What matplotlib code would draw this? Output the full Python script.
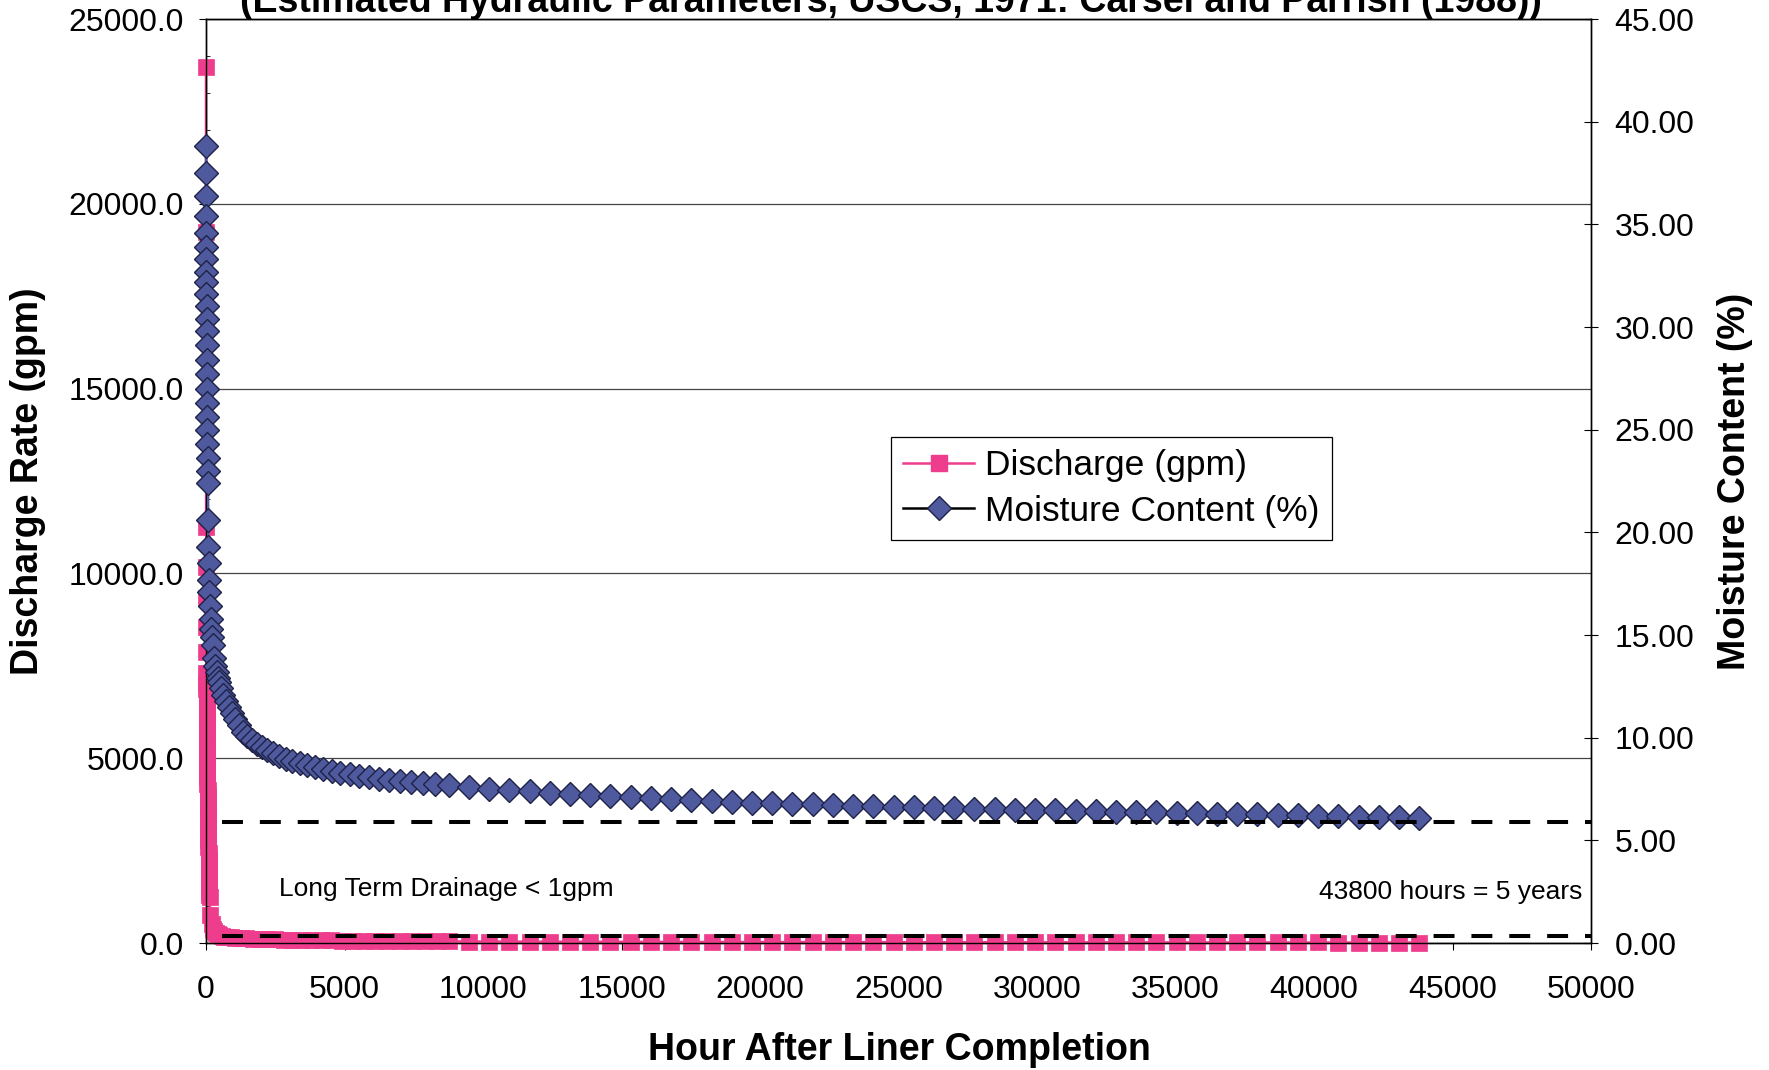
import numpy as np
import matplotlib.pyplot as plt
from matplotlib.ticker import FormatStrFormatter, MultipleLocator
from matplotlib.lines import Line2D

plt.rcParams['font.family'] = ['Liberation Sans', 'DejaVu Sans']

# --- data ---
# discharge, first year (dense record)
q_hours = [0, 2, 4, 6, 8, 10, 12, 14, 16,
           18, 20, 22, 24, 26, 28, 30, 32, 34, 36, 38, 40,
           43, 46, 49, 52, 55, 58, 61, 64,
           68, 72, 76, 80, 84, 88, 92, 96,
           101, 106, 111, 116, 121, 126, 132,
           156, 200, 250, 300, 360, 420, 480,
           560, 650, 760, 900, 1050, 1250, 1450, 1700, 1950, 2200,
           2500, 2800, 3100, 3450, 3800, 4150, 4500, 4900, 5300, 5700,
           6100, 6550, 7000, 7450, 7900, 8350]
q_gpm = [23700, 19240, 11260, 10180, 9330, 8550, 7870, 7300, 7030,
         6860, 6690, 6520, 6350, 6180, 6010, 5840, 5670, 5500, 5330, 5160, 4990,
         4820, 4650, 4480, 4310, 4140, 3970, 3800, 3630,
         3460, 3290, 3120, 2950, 2780, 2610, 2440, 2270,
         2100, 1930, 1760, 1590, 1420, 1300, 1240,
         760, 520, 390, 320, 270, 235, 210,
         190, 175, 160, 150, 140, 130, 122, 115, 108, 102,
         96, 90, 85, 80, 76, 72, 68, 64, 61, 58,
         55, 52, 50, 48, 46, 44]

# moisture content, first year (dense record)
m_hours = [0, 2, 4, 6, 8, 10, 12, 14, 16, 18,
           20, 22, 24, 27, 30, 33, 36, 40, 44, 48,
           54, 60, 66, 72, 80, 88, 96, 108, 120, 144,
           168, 192, 216, 240, 288, 336, 384, 432, 480, 552,
           624, 720, 816, 936, 1056, 1200, 1344, 1488, 1656, 1824,
           2016, 2208, 2424, 2640, 2880, 3120, 3384, 3648, 3936, 4224,
           4536, 4848, 5184, 5520, 5880, 6240, 6624, 7008, 7416, 7824,
           8256]
m_pct = [38.8, 37.5, 36.4, 35.4, 34.6, 33.9, 33.3, 32.7, 32.2, 31.6,
         31.0, 30.4, 29.8, 29.1, 28.4, 27.7, 27.0, 26.3, 25.6, 25.0,
         24.3, 23.6, 23.0, 22.4, 20.6, 19.3, 18.5, 17.7, 17.1, 16.4,
         15.8, 15.3, 14.9, 14.5, 13.9, 13.5, 13.2, 12.9, 12.7, 12.4,
         12.1, 11.8, 11.5, 11.2, 10.9, 10.6, 10.3, 10.1, 9.9, 9.7,
         9.55, 9.4, 9.25, 9.1, 8.98, 8.87, 8.76, 8.66, 8.56, 8.47,
         8.38, 8.3, 8.22, 8.15, 8.08, 8.01, 7.95, 7.89, 7.83, 7.78,
         7.73]

# years 2-5, monthly values
month_hours = [8760, 9490, 10220, 10950, 11680, 12410, 13140, 13870, 14600, 15330,
               16060, 16790, 17520, 18250, 18980, 19710, 20440, 21170, 21900, 22630,
               23360, 24090, 24820, 25550, 26280, 27010, 27740, 28470, 29200, 29930,
               30660, 31390, 32120, 32850, 33580, 34310, 35040, 35770, 36500, 37230,
               37960, 38690, 39420, 40150, 40880, 41610, 42340, 43070, 43800]
q_month = [42, 40, 39, 37, 36, 35, 34, 33, 32, 31,
           30, 29, 28, 28, 27, 26, 26, 25, 24, 24,
           23, 23, 22, 22, 21, 21, 20, 20, 19, 19,
           18, 18, 18, 17, 17, 16, 16, 16, 15, 15,
           15, 14, 14, 14, 13, 13, 13, 12, 12]
m_month = [7.68, 7.60, 7.52, 7.45, 7.38, 7.31, 7.25, 7.19, 7.14, 7.09,
           7.04, 6.99, 6.95, 6.91, 6.87, 6.84, 6.81, 6.78, 6.75, 6.72,
           6.69, 6.66, 6.64, 6.61, 6.59, 6.56, 6.54, 6.52, 6.50, 6.48,
           6.46, 6.44, 6.42, 6.40, 6.38, 6.36, 6.34, 6.32, 6.30, 6.28,
           6.26, 6.24, 6.22, 6.20, 6.18, 6.16, 6.14, 6.12, 6.10]

# reference levels (dashed), on the moisture axis
ref_levels = [5.9, 0.35]
ref_start = 580

PINK = '#ee3d8c'
SLATE = '#4f5a9e'
NAVY = '#1e2246'

hours_q = np.concatenate([q_hours, month_hours])
disch = np.concatenate([q_gpm, q_month])
hours_m = np.concatenate([m_hours, month_hours])
moist = np.concatenate([m_pct, m_month])

fig = plt.figure(figsize=(17.69, 10.70), dpi=100)
ax1 = fig.add_axes([0.11645, 0.11869, 0.78293, 0.86355])
ax2 = ax1.twinx()

ax1.plot(hours_q, disch, color=PINK, lw=1.8, marker='s', ms=12,
         mfc=PINK, mec=PINK, mew=0.5, zorder=3, clip_on=False)
ax2.plot(hours_m, moist, color=SLATE, lw=1.8, marker='D', ms=12,
         mfc=SLATE, mec=NAVY, mew=1.0, zorder=3, clip_on=False)

for lvl in ref_levels:
    ax2.plot([ref_start, 50000], [lvl, lvl], color='black', lw=2.9,
             dashes=(5.2, 4.2), zorder=6, solid_capstyle='butt')

ax1.set_xlim(0, 50000)
ax1.set_ylim(0, 25000)
ax2.set_ylim(0, 45)

ax1.xaxis.set_major_locator(MultipleLocator(5000))
ax1.yaxis.set_major_locator(MultipleLocator(5000))
ax1.yaxis.set_minor_locator(MultipleLocator(1000))
ax2.yaxis.set_major_locator(MultipleLocator(5))
ax1.yaxis.set_major_formatter(FormatStrFormatter('%.1f'))
ax2.yaxis.set_major_formatter(FormatStrFormatter('%.2f'))
ax1.xaxis.set_major_formatter(FormatStrFormatter('%d'))

ax1.grid(axis='y', which='major', color='#444444', lw=0.9)
ax1.set_axisbelow(True)

ax1.tick_params(axis='y', which='major', direction='out', length=5, width=0.8,
                pad=11, labelsize=23)
ax1.tick_params(axis='y', which='minor', direction='in', length=3, width=0.6)
ax1.tick_params(axis='x', direction='out', length=5, width=0.8, pad=18, labelsize=23)
ax2.tick_params(axis='y', direction='inout', length=10, width=0.8, pad=12, labelsize=23)

for sp in ax1.spines.values():
    sp.set_linewidth(1.0)
for sp in ax2.spines.values():
    sp.set_linewidth(1.0)

ax1.set_ylabel('Discharge Rate (gpm)', fontsize=27, fontweight='bold')
ax1.yaxis.set_label_coords(-0.1155, 0.5)
ax2.set_ylabel('Moisture Content (%)', fontsize=27, fontweight='bold')
ax2.yaxis.set_label_coords(1.091, 0.5)
ax1.set_xlabel('Hour After Liner Completion', fontsize=27, fontweight='bold')
ax1.xaxis.set_label_coords(0.501, -0.0963)

fig.text(0.5037, 1 - 2 / 1070,
         '(Estimated Hydraulic Parameters, USCS, 1971: Carsel and Parrish (1988))',
         ha='center', va='center', fontsize=27, fontweight='bold')

ax1.text(0.0527, 0.0584, 'Long Term Drainage < 1gpm', transform=ax1.transAxes,
         ha='left', va='center', fontsize=19)
ax1.text(0.9935, 0.0552, '43800 hours = 5 years', transform=ax1.transAxes,
         ha='right', va='center', fontsize=19)

handles = [
    Line2D([], [], color=PINK, lw=1.8, marker='s', ms=12, mfc=PINK, mec=PINK),
    Line2D([], [], color='black', lw=1.8, marker='D', ms=12, mfc=SLATE, mec=NAVY),
]
leg = ax2.legend(handles, ['Discharge (gpm)', 'Moisture Content (%)'],
                 loc='upper left', bbox_to_anchor=(0.4946, 0.5476),
                 fontsize=25.5, frameon=True, fancybox=False, framealpha=1,
                 edgecolor='black', handlelength=2.0, handletextpad=0.3,
                 borderpad=0.35, labelspacing=0.35, borderaxespad=0)
leg.get_frame().set_linewidth(0.9)

fig.savefig('out.png', dpi=100)
